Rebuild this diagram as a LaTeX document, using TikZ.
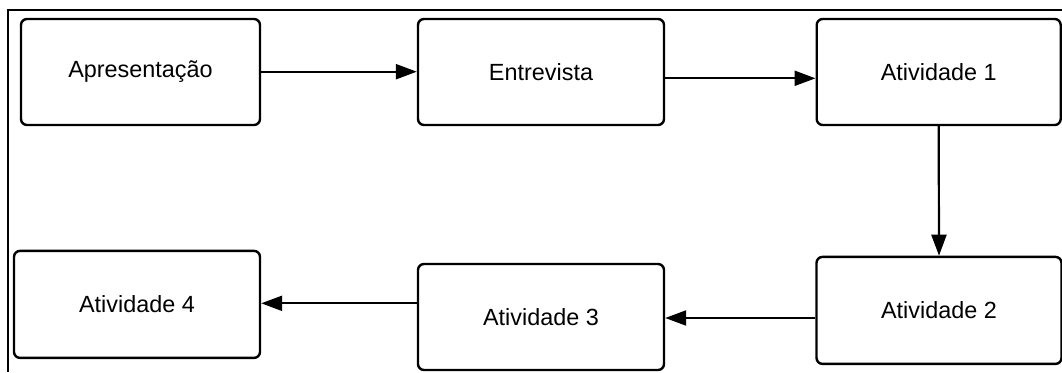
\documentclass[tikz,border=0pt]{standalone}
\usepackage{fontspec}
\setmainfont{Liberation Sans}
\usetikzlibrary{arrows.meta,calc}
\begin{document}
\begin{tikzpicture}[x=1pt,y=-1pt,
  box/.style={draw=black,line width=2.4pt,rounded corners=6pt,fill=white,
    inner sep=0pt,font=\fontsize{23.4}{28}\selectfont},
  conn/.style={line width=2.2pt,-{Triangle[length=21pt,width=15pt]}}]
\useasboundingbox (0,0) rectangle (1062,372);
\draw[line width=2pt] (8,372) -- (8,10) -- (1062,10);
\node[box,minimum width=239pt,minimum height=106pt] (a) at (140.5,72) {Apresentação};
\node[box,minimum width=246pt,minimum height=106pt] (e) at (541,72) {Entrevista};
\node[box,minimum width=244pt,minimum height=106pt] (a1) at (938.7,72) {Atividade 1};
\node[box,minimum width=245pt,minimum height=107pt] (a2) at (939,310.4) {Atividade 2};
\node[box,minimum width=246pt,minimum height=106pt] (a3) at (541,317) {Atividade 3};
\node[box,minimum width=246pt,minimum height=107pt] (a4) at (137,304.4) {Atividade 4};
\draw[conn] (a.east |- 0,71.7) -- (e.west |- 0,71.7);
\draw[conn] (e.east |- 0,78.3) -- (a1.west |- 0,78.3);
\draw[conn] (a1.south) -- (a2.north);
\draw[conn] (a2.west |- 0,318) -- (a3.east |- 0,318);
\draw[conn] (a3.west |- 0,303.3) -- (a4.east |- 0,303.3);
\end{tikzpicture}
\end{document}
